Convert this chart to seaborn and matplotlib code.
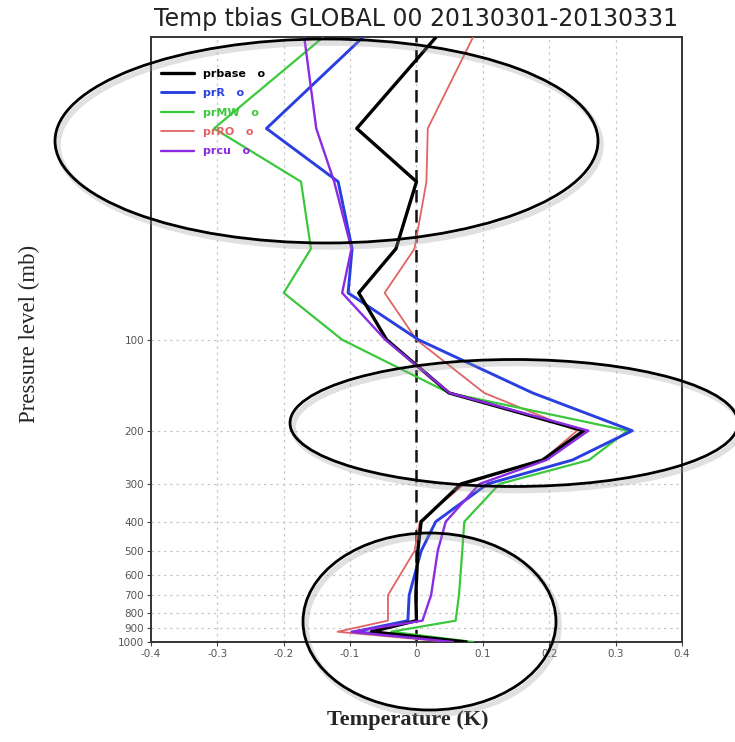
import matplotlib

matplotlib.use("Agg")
import matplotlib.pyplot as plt
from matplotlib.patches import Ellipse
from matplotlib.lines import Line2D
import pandas as pd
import seaborn as sns

# pressure levels (mb) and temperature bias (K) per experiment
levels = [10, 20, 30, 50, 70, 100, 150, 200, 250, 300, 400, 500, 700, 850, 925, 1000]
prbase = [0.029, -0.090, 0.000, -0.031, -0.087, -0.045, 0.049, 0.252, 0.190, 0.067, 0.007, 0.002, -0.001, 0.000, -0.068, 0.075]
prR = [-0.081, -0.226, -0.118, -0.097, -0.103, 0.003, 0.175, 0.325, 0.235, 0.107, 0.029, 0.007, -0.011, -0.013, -0.093, 0.070]
prMW = [-0.141, -0.305, -0.174, -0.159, -0.200, -0.112, 0.049, 0.318, 0.260, 0.125, 0.072, 0.069, 0.064, 0.059, -0.038, 0.085]
prRO = [0.085, 0.017, 0.015, -0.003, -0.048, 0.000, 0.102, 0.242, 0.190, 0.072, 0.005, -0.003, -0.043, -0.043, -0.119, 0.050]
prcu = [-0.169, -0.151, -0.124, -0.098, -0.112, -0.047, 0.050, 0.259, 0.196, 0.095, 0.044, 0.032, 0.022, 0.009, -0.098, 0.055]

series_names = ["prbase", "prR", "prMW", "prRO", "prcu"]
series_values = [prbase, prR, prMW, prRO, prcu]
colors = {"prbase": "#000000", "prR": "#2a3fe0", "prMW": "#3cc83c", "prRO": "#e06464", "prcu": "#8a2be2"}
widths = {"prbase": 2.4, "prR": 2.1, "prMW": 1.6, "prRO": 1.3, "prcu": 1.7}
draw_order = ["prRO", "prMW", "prR", "prbase", "prcu"]

x_ticks = [-0.4, -0.3, -0.2, -0.1, 0.0, 0.1, 0.2, 0.3, 0.4]
x_tick_labels = ["-0.4", "-0.3", "-0.2", "-0.1", "0", "0.1", "0.2", "0.3", "0.4"]
y_ticks = [100, 200, 300, 400, 500, 600, 700, 800, 900, 1000]

rows = []
for name, vals in zip(series_names, series_values):
    for lev, v in zip(levels, vals):
        rows.append({"exp": name, "level": lev, "bias": v})
df = pd.DataFrame(rows)

sns.set_style("white")
fig = plt.figure(figsize=(7.35, 7.42), dpi=100)
ax = fig.add_axes([0.2054, 0.1348, 0.7225, 0.8147])

for name in draw_order:
    sub = df[df["exp"] == name]
    sns.lineplot(data=sub, x="bias", y="level", sort=False, estimator=None,
                 color=colors[name], linewidth=widths[name], ax=ax, zorder=3)

ax.set_yscale("log")
ax.set_ylim(1000, 10)
ax.set_xlim(-0.4, 0.4)
ax.set_yticks(y_ticks)
ax.set_yticklabels([str(t) for t in y_ticks])
ax.yaxis.set_minor_locator(matplotlib.ticker.NullLocator())
ax.set_xticks(x_ticks)
ax.set_xticklabels(x_tick_labels)
ax.tick_params(axis="both", labelsize=7.5, labelcolor="#555555", length=3, color="#444444",
               direction="out", pad=2, left=True, bottom=True)
for t in y_ticks:
    ax.axhline(t, color="#c8c8c8", lw=0.9, ls=(0, (2, 3)), zorder=1)
for t in x_ticks[1:-1]:
    ax.axvline(t, color="#c8c8c8", lw=0.9, ls=(0, (2, 3)), zorder=1)
ax.axvline(0, color="#111111", lw=1.8, ls=(0, (5, 3)), zorder=2)
for side in ax.spines.values():
    side.set_color("#333333")
    side.set_linewidth(1.4)
ax.set_xlabel("")
ax.set_ylabel("")

handles = [Line2D([0], [0], color=colors[n], lw=widths[n]) for n in series_names]
labels = [f"{n}   o" for n in series_names]
leg = ax.legend(handles, labels, loc="upper left", bbox_to_anchor=(0.0, 0.965), frameon=False,
                handlelength=3.0, labelspacing=0.85, handletextpad=0.8,
                labelcolor="linecolor", prop={"weight": "bold", "size": 8})

fig.text(0.566, 0.975, "Temp tbias GLOBAL 00 20130301-20130331", ha="center", va="center",
         fontsize=17, color="#222222")
fig.text(0.555, 0.03, "Temperature (K)", ha="center", va="center", fontsize=16,
         family="Liberation Serif", weight="bold")
fig.text(0.04, 0.55, "Pressure level (mb)", ha="center", va="center", rotation=90,
         fontsize=16.5, family="Liberation Serif")

# hand-drawn highlight ellipses (figure pixels: cx, cy, w, h)
W, H = 735.0, 742.0
ellipses = [(326.5, 141, 543, 204), (514, 423, 448, 127), (429.5, 621.5, 253, 177)]
for cx, cy, w, h in ellipses:
    shadow = Ellipse(((cx + 3) / W, 1 - (cy + 4) / H), w / W, h / H, transform=fig.transFigure,
                     fill=False, ec="#999999", lw=4, alpha=0.3, zorder=9)
    fig.add_artist(shadow)
    e = Ellipse((cx / W, 1 - cy / H), w / W, h / H, transform=fig.transFigure,
                fill=False, ec="black", lw=2, zorder=10)
    fig.add_artist(e)

fig.savefig("out.png", dpi=100)
